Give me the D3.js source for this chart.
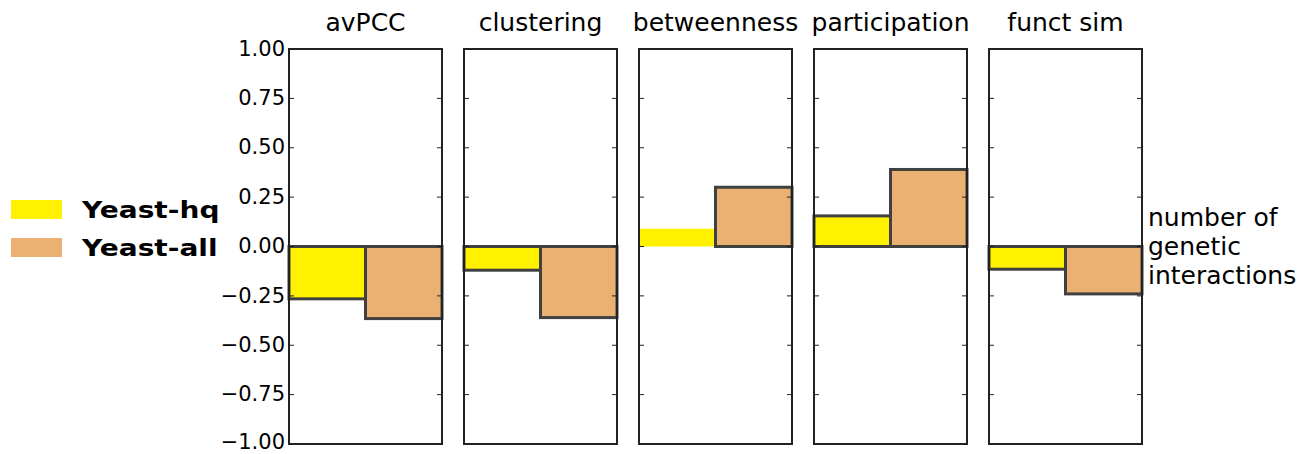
<!DOCTYPE html>
<html>
<head>
<meta charset="utf-8">
<script src="https://d3js.org/d3.v7.min.js"></script>
<style>
    body { margin: 0; background: #fff; }
    text { font-family: "DejaVu Sans", sans-serif; fill: #000; }
</style>
</head>
<body></body>
<script>
    const metrics = ["avPCC", "clustering", "betweenness", "participation", "funct sim"];
    const datasets = ["Yeast-hq", "Yeast-all"];
    const colors = ["#fff100", "#ebb172"];
    const hqValues = [-0.265, -0.12, 0.09, 0.155, -0.115];
    const allValues = [-0.365, -0.36, 0.30, 0.39, -0.24];
    const hqOutlined = [true, true, false, true, true];
    const allOutlined = [true, true, true, true, true];
    const yTicks = [1, 0.75, 0.5, 0.25, 0, -0.25, -0.5, -0.75, -1];
    const sideLabel = ["number of", "genetic", "interactions"];

    const width = 1316, height = 454;
    const svg = d3.select("body").append("svg").attr("width", width).attr("height", height);

    const plotTop = 49, plotBottom = 444;
    const px = d3.scaleBand().domain(metrics).range([289, 1142]).paddingInner(22 / 175).paddingOuter(0);
    const y = d3.scaleLinear().domain([-1, 1]).range([plotBottom, plotTop]);

    metrics.forEach((m, i) => {
        const g = svg.append("g").attr("transform", `translate(${px(m)},0)`);
        const w = px.bandwidth();
        const bx = d3.scaleBand().domain(datasets).range([0, w]);
        const vals = [hqValues[i], allValues[i]];
        const outl = [hqOutlined[i], allOutlined[i]];

        g.selectAll("rect.bar")
            .data(datasets)
            .join("rect")
            .attr("class", "bar")
            .attr("x", d => bx(d))
            .attr("width", bx.bandwidth())
            .attr("y", (d, j) => y(Math.max(0, vals[j])))
            .attr("height", (d, j) => Math.abs(y(vals[j]) - y(0)))
            .attr("fill", (d, j) => colors[j])
            .attr("stroke", (d, j) => outl[j] ? "#404040" : "none")
            .attr("stroke-width", 3);

        // ticks inward on both sides
        g.selectAll("line.tl")
            .data(yTicks)
            .join("line")
            .attr("class", "tl")
            .attr("x1", 0).attr("x2", 5)
            .attr("y1", d => y(d)).attr("y2", d => y(d))
            .attr("stroke", "#222").attr("stroke-width", 1);
        g.selectAll("line.tr")
            .data(yTicks)
            .join("line")
            .attr("class", "tr")
            .attr("x1", w - 5).attr("x2", w)
            .attr("y1", d => y(d)).attr("y2", d => y(d))
            .attr("stroke", "#222").attr("stroke-width", 1);

        g.append("rect")
            .attr("x", 0).attr("y", plotTop)
            .attr("width", w).attr("height", plotBottom - plotTop)
            .attr("fill", "none").attr("stroke", "#222").attr("stroke-width", 2);

        g.append("text")
            .attr("x", w / 2).attr("y", 31)
            .attr("text-anchor", "middle")
            .attr("font-size", 25)
            .text(m);
    });

    // y axis labels (bottom one nudged so it stays inside the picture)
    svg.append("g").selectAll("text")
        .data(yTicks)
        .join("text")
        .attr("x", 285)
        .attr("y", d => Math.min(y(d), height - 12))
        .attr("dy", "0.32em")
        .attr("text-anchor", "end")
        .attr("font-size", 21)
        .text(d => d3.format(".2f")(d).replace("-", "\u2212"));

    // legend
    const leg = svg.append("g");
    datasets.forEach((d, j) => {
        leg.append("rect")
            .attr("x", 11).attr("y", 200 + j * 38)
            .attr("width", 51).attr("height", 19)
            .attr("fill", colors[j]);
        leg.append("text")
            .attr("transform", `translate(82,${210 + j * 38}) scale(1.22,1)`)
            .attr("dy", "0.36em")
            .attr("font-size", 23)
            .attr("font-weight", "bold")
            .text(d);
    });

    // right label
    svg.append("g").selectAll("text")
        .data(sideLabel)
        .join("text")
        .attr("x", 1148)
        .attr("y", (d, k) => 226 + k * 29)
        .attr("font-size", 25)
        .text(d => d);
</script>
</html>
